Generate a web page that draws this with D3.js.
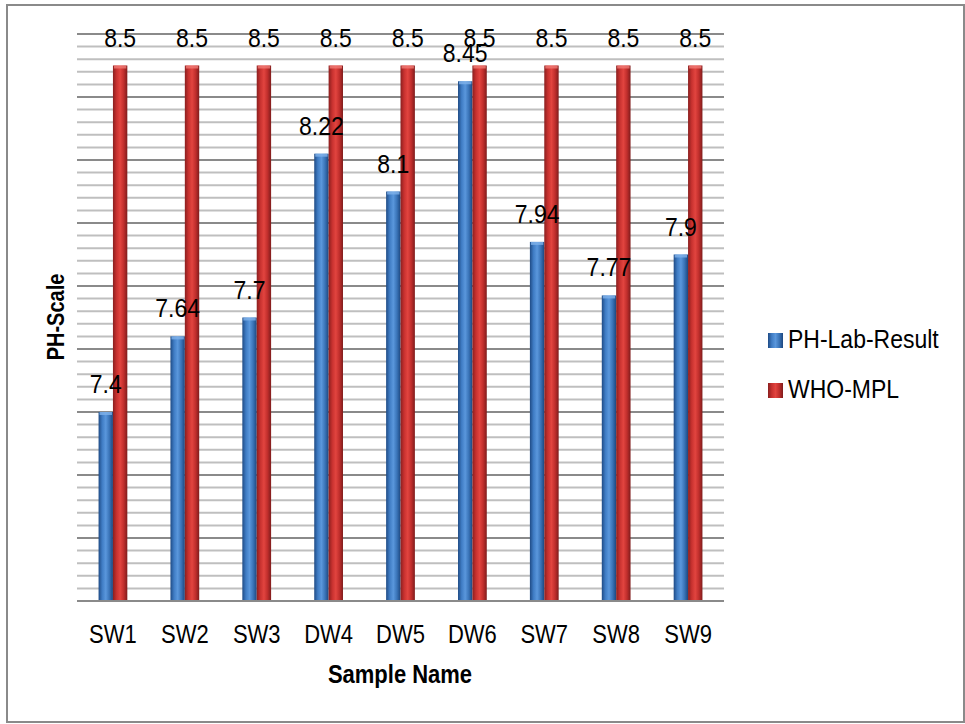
<!DOCTYPE html>
<html>
<head>
<meta charset="utf-8">
<script src="https://cdn.jsdelivr.net/npm/d3@7"></script>
<style>
  html, body { margin: 0; padding: 0; background: #fff; }
  svg { display: block; }
  text { font-family: "Liberation Sans", Arial, sans-serif; fill: #000; }
</style>
</head>
<body>
<svg id="chart" width="965" height="724"></svg>
<script>
// ---- data ----
const categories = ["SW1", "SW2", "SW3", "DW4", "DW5", "DW6", "SW7", "SW8", "SW9"];
const seriesNames = ["PH-Lab-Result", "WHO-MPL"];
const phLabResult = [7.4, 7.64, 7.7, 8.22, 8.1, 8.45, 7.94, 7.77, 7.9];
const whoMPL = [8.5, 8.5, 8.5, 8.5, 8.5, 8.5, 8.5, 8.5, 8.5];
const yDomain = [6.8, 8.6];
const minorStep = 0.04;
const majorEvery = 5;

const seriesValues = [phLabResult, whoMPL];
const rows = categories.map((c, i) => ({ cat: c, vals: seriesNames.map((s, j) => ({ key: s, value: seriesValues[j][i] })) }));

const svg = d3.select("#chart");
const plot = { left: 77, right: 724, top: 34, bottom: 601 };
const SY = 1.15; // vertical stretch of text, as in the reference

const y = d3.scaleLinear().domain(yDomain).range([plot.bottom, plot.top]);
const x0 = d3.scaleBand().domain(categories).range([plot.left, plot.right]).paddingInner(0.6).paddingOuter(0.3);
const x1 = d3.scaleBand().domain(seriesNames).range([0, x0.bandwidth()]).padding(0);

// gradients
const defs = svg.append("defs");
const grads = {
  "PH-Lab-Result": ["#1f4b85", "#3f7cc4", "#5a97dc", "#3a74b8", "#1d477f"],
  "WHO-MPL": ["#8a1f1f", "#c7312f", "#e2443f", "#c02e2c", "#7f1c1c"]
};
Object.entries(grads).forEach(([k, cols], idx) => {
  const g = defs.append("linearGradient").attr("id", "g" + idx).attr("x1", "0").attr("x2", "1").attr("y1", "0").attr("y2", "0");
  cols.forEach((c, i) => g.append("stop").attr("offset", (i / (cols.length - 1))).attr("stop-color", c));
});
const fillFor = k => "url(#g" + seriesNames.indexOf(k) + ")";
const capColor = { "PH-Lab-Result": "#7fb2ea", "WHO-MPL": "#f07a75" };

// outer border
svg.append("rect").attr("x", 7).attr("y", 5).attr("width", 957).attr("height", 717)
  .attr("fill", "none").attr("stroke", "#8a8a8a").attr("stroke-width", 2);

// gridlines
const nLines = Math.round((yDomain[1] - yDomain[0]) / minorStep);
const gridVals = d3.range(0, nLines + 1).map(i => ({ v: yDomain[0] + i * minorStep, major: i % majorEvery === 0 }));
svg.append("g").selectAll("line").data(gridVals).join("line")
  .attr("x1", plot.left).attr("x2", plot.right)
  .attr("y1", d => y(d.v)).attr("y2", d => y(d.v))
  .attr("stroke", d => d.major ? "#8a8a8a" : "#bfbfbf")
  .attr("stroke-width", 2);

// bars
const groups = svg.append("g").selectAll("g").data(rows).join("g")
  .attr("transform", d => `translate(${x0(d.cat)},0)`);

groups.selectAll("rect.bar").data(d => d.vals).join("rect")
  .attr("class", "bar")
  .attr("x", d => x1(d.key))
  .attr("width", x1.bandwidth())
  .attr("y", d => y(d.value))
  .attr("height", d => y(yDomain[0]) - y(d.value))
  .attr("fill", d => fillFor(d.key));

groups.selectAll("rect.cap").data(d => d.vals).join("rect")
  .attr("class", "cap")
  .attr("x", d => x1(d.key) + 1)
  .attr("width", x1.bandwidth() - 2)
  .attr("y", d => y(d.value))
  .attr("height", 3)
  .attr("fill", d => capColor[d.key])
  .attr("opacity", 0.8);

// data labels
groups.selectAll("text.lbl").data(d => d.vals).join("text")
  .attr("class", "lbl")
  .attr("transform", d => `translate(${x1(d.key) + x1.bandwidth() / 2},${y(d.value) - 19}) scale(1,${SY})`)
  .attr("text-anchor", "middle")
  .attr("font-size", 23)
  .text(d => String(d.value));

// baseline axis
svg.append("line").attr("x1", plot.left).attr("x2", plot.right)
  .attr("y1", plot.bottom).attr("y2", plot.bottom)
  .attr("stroke", "#8a8a8a").attr("stroke-width", 2);

// x axis labels
const xAxis = d3.axisBottom(x0).tickSize(0).tickPadding(0);
const xg = svg.append("g").attr("transform", `translate(0,${plot.bottom})`).call(xAxis);
xg.select(".domain").remove();
xg.selectAll("text").attr("font-size", 22).attr("dy", null).attr("y", 0)
  .attr("transform", `translate(0,42) scale(1,${SY})`)
  .style("font-family", "'Liberation Sans', Arial, sans-serif").attr("fill", "#000");

// axis titles
svg.append("text").attr("transform", `translate(400,683) scale(1,${SY})`).attr("text-anchor", "middle")
  .attr("font-size", 22).attr("font-weight", "bold").text("Sample Name");
svg.append("text").attr("transform", `translate(64,317) rotate(-90) scale(1,${SY})`).attr("text-anchor", "middle")
  .attr("font-size", 20).attr("font-weight", "bold").text("PH-Scale");

// legend
const legend = svg.append("g").selectAll("g").data(seriesNames).join("g")
  .attr("transform", (d, i) => `translate(768,${333 + i * 50})`);
legend.append("rect").attr("width", 15).attr("height", 15).attr("fill", d => fillFor(d));
legend.append("text").attr("transform", `translate(20,15) scale(1,${SY})`).attr("font-size", 23).text(d => d);
</script>
</body>
</html>
